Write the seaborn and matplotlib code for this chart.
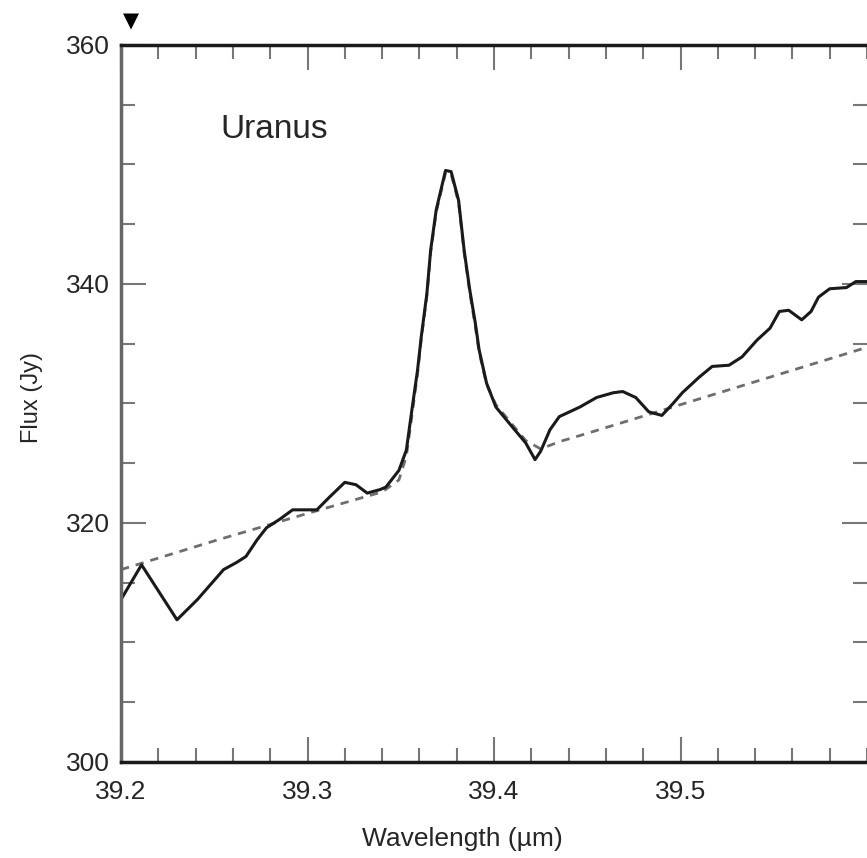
import numpy as np
import pandas as pd
import matplotlib
matplotlib.use("Agg")
import matplotlib.pyplot as plt
import seaborn as sns
from matplotlib.ticker import MultipleLocator

# observed spectrum (solid)
obs_wl = [39.200, 39.211, 39.230, 39.241, 39.255, 39.262, 39.267, 39.273, 39.278, 39.285,
          39.292, 39.305, 39.312, 39.320, 39.326, 39.332, 39.339, 39.342, 39.349, 39.353,
          39.356, 39.359, 39.361, 39.364, 39.366, 39.369, 39.374, 39.377, 39.381, 39.384,
          39.387, 39.390, 39.392, 39.396, 39.401, 39.410, 39.417, 39.422, 39.425, 39.430,
          39.435, 39.446, 39.455, 39.464, 39.469, 39.476, 39.483, 39.490, 39.496, 39.501,
          39.510, 39.517, 39.526, 39.533, 39.541, 39.548, 39.553, 39.558, 39.565, 39.570,
          39.574, 39.580, 39.589, 39.594, 39.600]
obs_flux = [313.6, 316.5, 311.9, 313.6, 316.1, 316.7, 317.2, 318.6, 319.6, 320.3,
            321.1, 321.1, 322.2, 323.4, 323.2, 322.5, 322.8, 323.0, 324.4, 326.1,
            329.5, 332.8, 335.6, 339.2, 342.8, 346.2, 349.5, 349.4, 347.0, 342.8,
            339.5, 336.7, 334.5, 331.7, 329.7, 328.0, 326.7, 325.3, 326.0, 327.8,
            328.9, 329.7, 330.5, 330.9, 331.0, 330.5, 329.3, 329.0, 330.0, 330.9,
            332.2, 333.1, 333.2, 333.9, 335.3, 336.3, 337.7, 337.8, 337.0, 337.7,
            338.9, 339.6, 339.7, 340.2, 340.2]

# model (dashed)
mod_wl = [39.200, 39.250, 39.300, 39.340, 39.349, 39.353, 39.356, 39.359, 39.361, 39.364,
          39.366, 39.369, 39.374, 39.377, 39.381, 39.384, 39.387, 39.390, 39.392, 39.396,
          39.401, 39.410, 39.417, 39.425, 39.435, 39.450, 39.500, 39.550, 39.600]
mod_flux = [316.1, 318.5, 320.8, 322.6, 323.6, 325.6, 329.0, 332.5, 335.4, 339.0,
            342.6, 346.0, 349.3, 349.2, 346.8, 342.6, 339.3, 336.4, 334.3, 331.6,
            329.9, 328.2, 326.9, 326.2, 326.8, 327.5, 329.9, 332.3, 334.7]

sns.set_style("ticks")
plt.rcParams['font.family'] = ['Liberation Sans', 'DejaVu Sans']

fig = plt.figure(figsize=(8.67, 8.58), dpi=100)
ax = fig.add_axes([0.1396, 0.1119, 0.8604, 0.8357])

sns.lineplot(x=mod_wl, y=mod_flux, ax=ax, color='#6e6e6e', lw=2.0,
             linestyle=(0, (3, 2.5)), sort=False)
sns.lineplot(x=obs_wl, y=obs_flux, ax=ax, color='#1a1a1a', lw=2.2, sort=False)

ax.set_xlim(39.2, 39.6)
ax.set_ylim(300, 360)
ax.xaxis.set_minor_locator(MultipleLocator(0.02))
ax.yaxis.set_minor_locator(MultipleLocator(5))
ax.set_xticks([39.2, 39.3, 39.4, 39.5])
ax.set_xticklabels(['39.2', '39.3', '39.4', '39.5'])
ax.set_yticks([300, 320, 340, 360])
ax.set_yticklabels(['300', '320', '340', '360'])

ax.tick_params(which='both', direction='in', top=True, right=True, color='#777777', width=1.5)
ax.tick_params(which='major', length=18)
ax.tick_params(which='minor', length=10)
ax.tick_params(axis='x', which='major', labelsize=19, pad=13)
ax.tick_params(axis='y', which='major', labelsize=19, pad=8)

for side in ['left', 'top', 'bottom']:
    ax.spines[side].set_linewidth(2.5)
    ax.spines[side].set_color('#1a1a1a')
ax.spines['left'].set_color('#666666')
ax.spines['right'].set_visible(False)

ax.set_xlabel('Wavelength (\u00b5m)', fontsize=19)
ax.set_ylabel('Flux (Jy)', fontsize=17)
ax.xaxis.set_label_coords(0.458, -0.090)
ax.yaxis.set_label_coords(-0.104, 0.509)
ax.text(39.2535, 352.9, 'Uranus', fontsize=24, va='center', ha='left')

fig.text(0.151, 0.987, '\u25bc', fontsize=15, ha='center', va='top', color='black',
         family='DejaVu Sans')

fig.savefig('out.png', dpi=100)
